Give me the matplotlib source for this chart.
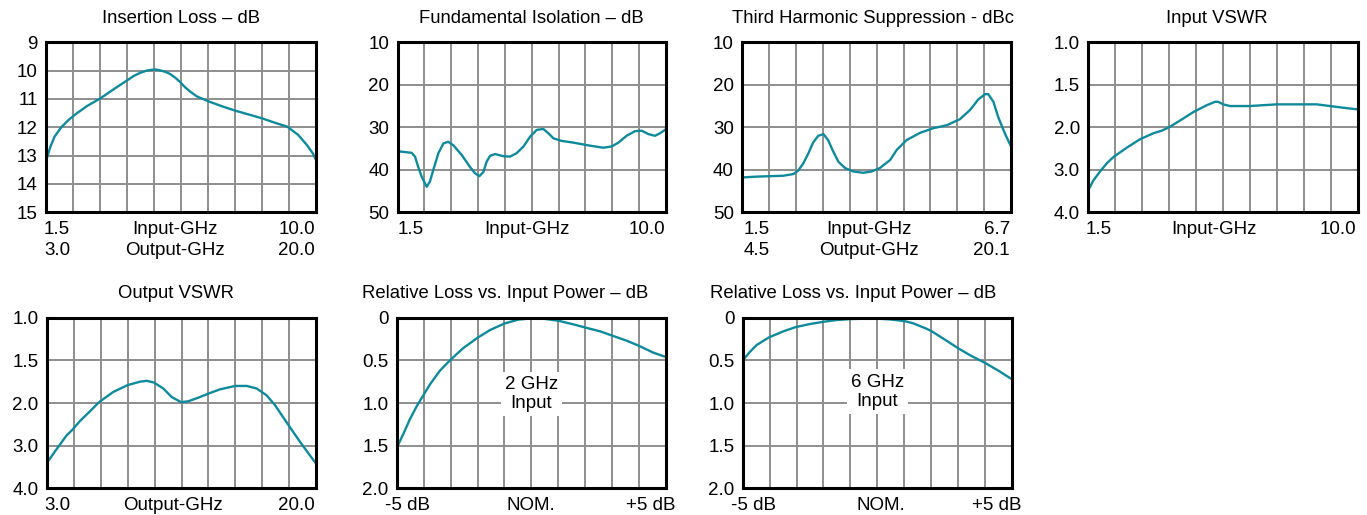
import numpy as np
import matplotlib
matplotlib.use("Agg")
import matplotlib.pyplot as plt

plt.rcParams['font.family'] = ['Liberation Sans', 'DejaVu Sans']

TEAL = '#0f8a9a'
GRID = '#8e8e8e'
FS = 13.5
FS_T = 13.3

# ---------------- data ----------------
# Insertion loss vs input frequency (GHz)
il_freq = [1.50, 1.55, 1.64, 1.77, 1.98, 2.21, 2.43, 2.79, 3.21, 3.68, 4.14, 4.26, 4.46, 4.67, 4.83,
           4.95, 5.09, 5.25, 5.41, 5.57, 5.72, 5.88, 6.04, 6.25, 6.46, 6.63, 7.07, 7.48, 7.92, 8.29,
           8.71, 9.10, 9.44, 9.71, 9.90, 10.0]
il_db = [13.2, 13.0, 12.68, 12.33, 12.0, 11.74, 11.54, 11.25, 10.98, 10.62, 10.28, 10.19, 10.08, 10.0, 9.97,
         9.96, 9.99, 10.04, 10.12, 10.25, 10.40, 10.59, 10.74, 10.91, 11.01, 11.09, 11.27, 11.42, 11.56, 11.68,
         11.84, 11.98, 12.27, 12.62, 12.92, 13.15]

# Fundamental isolation vs input frequency (GHz)
iso_freq = [1.50, 1.57, 1.94, 2.05, 2.15, 2.26, 2.42, 2.52, 2.63, 2.79, 2.95, 3.10, 3.26, 3.53, 3.79,
            3.95, 4.09, 4.22, 4.32, 4.43, 4.59, 4.85, 5.06, 5.27, 5.49, 5.70, 5.91, 6.12, 6.28, 6.44,
            6.70, 7.07, 7.58, 8.02, 8.29, 8.50, 8.76, 9.03, 9.24, 9.45, 9.66, 9.82, 10.0]
iso_db = [35.7, 35.7, 36.0, 36.9, 39.3, 41.6, 44.0, 42.8, 40.0, 36.1, 33.8, 33.4, 34.2, 36.5, 39.3,
          40.8, 41.5, 40.5, 38.1, 36.7, 36.3, 36.8, 36.9, 36.1, 34.5, 32.2, 30.6, 30.4, 31.4, 32.6,
          33.2, 33.6, 34.3, 34.8, 34.5, 33.6, 32.0, 30.9, 30.8, 31.6, 32.0, 31.4, 30.5]

# Third harmonic suppression vs input frequency (GHz)
h3_freq = [1.50, 1.78, 2.04, 2.29, 2.49, 2.58, 2.68, 2.78, 2.87, 2.97, 3.07, 3.16, 3.26, 3.36, 3.49,
           3.65, 3.84, 4.00, 4.16, 4.36, 4.49, 4.68, 4.94, 5.20, 5.46, 5.71, 5.91, 6.07, 6.20, 6.26,
           6.36, 6.45, 6.58, 6.70]
h3_dbc = [41.8, 41.6, 41.5, 41.4, 41.0, 40.2, 38.5, 36.1, 33.6, 32.0, 31.6, 33.0, 35.7, 38.1, 39.6,
          40.4, 40.7, 40.4, 39.6, 37.7, 35.3, 33.0, 31.3, 30.2, 29.5, 28.1, 25.9, 23.4, 22.2, 22.2,
          24.0, 27.5, 31.4, 34.5]

# Input VSWR vs input frequency (GHz)
vin_freq = [1.50, 1.66, 1.87, 2.08, 2.29, 2.71, 3.13, 3.55, 3.81, 4.04, 4.39, 4.81, 5.23, 5.49, 5.59,
            5.75, 5.96, 6.28, 6.57, 7.01, 7.43, 7.85, 8.27, 8.69, 9.11, 9.53, 10.0]
vin_vswr = [3.48, 3.25, 3.04, 2.85, 2.70, 2.48, 2.28, 2.14, 2.08, 2.0, 1.92, 1.82, 1.74, 1.70, 1.70,
            1.73, 1.75, 1.75, 1.75, 1.74, 1.73, 1.73, 1.73, 1.73, 1.75, 1.77, 1.79]

# Output VSWR vs output frequency (GHz)
vout_freq = [3.0, 3.61, 4.24, 4.60, 5.09, 5.70, 6.29, 7.19, 8.10, 8.88, 9.30, 9.76, 10.35, 10.88, 11.47,
             11.93, 12.67, 13.20, 13.93, 14.90, 15.62, 16.25, 16.88, 17.41, 18.19, 18.99, 19.52, 20.0]
vout_vswr = [3.40, 3.08, 2.76, 2.63, 2.42, 2.20, 1.99, 1.87, 1.79, 1.75, 1.74, 1.76, 1.83, 1.93, 1.99,
             1.98, 1.93, 1.89, 1.84, 1.80, 1.80, 1.83, 1.91, 2.05, 2.48, 2.91, 3.18, 3.42]

# Relative loss vs input power (dB re nominal), 2 GHz input
p2_pin = [-5.0, -4.76, -4.52, -4.27, -4.04, -3.77, -3.40, -3.03, -2.53, -2.0, -1.54, -1.0, -0.48,
          0.01, 0.45, 1.0, 1.56, 2.03, 2.56, 3.01, 3.55, 4.01, 4.54, 5.0]
p2_loss = [1.52, 1.36, 1.19, 1.04, 0.92, 0.78, 0.62, 0.50, 0.355, 0.235, 0.145, 0.068, 0.022,
           0.008, 0.012, 0.035, 0.078, 0.117, 0.16, 0.21, 0.27, 0.33, 0.41, 0.46]

# Relative loss vs input power (dB re nominal), 6 GHz input
p6_pin = [-5.0, -4.73, -4.48, -4.02, -3.49, -3.03, -2.50, -1.98, -1.51, -0.99, -0.51, 0.02, 0.48,
          1.02, 1.34, 1.59, 1.84, 2.03, 2.58, 3.02, 3.45, 4.01, 4.50, 5.0]
p6_loss = [0.50, 0.40, 0.32, 0.23, 0.16, 0.11, 0.074, 0.047, 0.027, 0.016, 0.012, 0.012, 0.02,
           0.04, 0.066, 0.098, 0.13, 0.16, 0.27, 0.36, 0.44, 0.53, 0.62, 0.72]

# tick values / labels
il_yticks = [9, 10, 11, 12, 13, 14, 15]
db_yticks = [10, 20, 30, 40, 50]
vswr_yticks = [1.0, 1.5, 2.0, 3.0, 4.0]
vswr_ylabels = ["1.0", "1.5", "2.0", "3.0", "4.0"]
pw_yticks = [0, 0.5, 1.0, 1.5, 2.0]
pw_ylabels = ["0", "0.5", "1.0", "1.5", "2.0"]

il_xlabels = [["1.5", "Input-GHz", "10.0"], ["3.0", "Output-GHz", "20.0"]]
iso_xlabels = [["1.5", "Input-GHz", "10.0"]]
h3_xlabels = [["1.5", "Input-GHz", "6.7"], ["4.5", "Output-GHz", "20.1"]]
vin_xlabels = [["1.5", "Input-GHz", "10.0"]]
vout_xlabels = [["3.0", "Output-GHz", "20.0"]]
pw_xlabels = [["-5 dB", "NOM.", "+5 dB"]]

titles = ["Insertion Loss \u2013 dB", "Fundamental Isolation \u2013 dB",
          "Third Harmonic Suppression - dBc", "Input VSWR", "Output VSWR",
          "Relative Loss vs. Input Power \u2013 dB", "Relative Loss vs. Input Power \u2013 dB"]
notes = ["2 GHz\nInput", "6 GHz\nInput"]

# ---------------- figure ----------------
W, H = 1367, 515
fig = plt.figure(figsize=(W / 100, H / 100), dpi=100)


def make_ax(x0, y0, x1, y1):
    return fig.add_axes([x0 / W, 1 - y1 / H, (x1 - x0) / W, (y1 - y0) / H])


def vswr_scale(ax):
    pos = np.arange(len(vswr_yticks), dtype=float)
    fwd = lambda v: np.interp(v, vswr_yticks, pos)
    inv = lambda p: np.interp(p, pos, vswr_yticks)
    ax.set_yscale('function', functions=(fwd, inv))


def style(ax, xlim, ylim, yticks, ylabels):
    ax.set_xlim(*xlim)
    ax.set_ylim(*ylim)
    ax.set_xticks(np.linspace(xlim[0], xlim[1], 11))
    ax.set_xticklabels([])
    ax.set_yticks(yticks)
    ax.set_yticklabels(ylabels, fontsize=FS)
    ax.yaxis.set_minor_locator(matplotlib.ticker.NullLocator())
    ax.tick_params(length=0, pad=6, which='both')
    ax.grid(True, color=GRID, lw=1.4)
    ax.set_axisbelow(True)
    for s in ax.spines.values():
        s.set_linewidth(2.2)
        s.set_color('black')


def xlabels(ax, rows, offs=(-2, -6, -1)):
    for r, row in enumerate(rows):
        dy = -17 - 21 * r
        for (fx, ha, dx), txt in zip([(0, 'left', offs[0]), (0.5, 'center', offs[1]),
                                      (1, 'right', offs[2])], row):
            ax.annotate(txt, xy=(fx, 0), xycoords='axes fraction', xytext=(dx, dy),
                        textcoords='offset pixels', ha=ha, va='center', fontsize=FS)


def title(ax, txt, dx=0, left=False):
    if left:
        ax.annotate(txt, xy=(0, 1), xycoords='axes fraction', xytext=(dx, 24),
                    textcoords='offset pixels', ha='left', va='center', fontsize=FS_T)
    else:
        ax.annotate(txt, xy=(0.5, 1), xycoords='axes fraction', xytext=(dx, 24),
                    textcoords='offset pixels', ha='center', va='center', fontsize=FS_T)


LW = 1.7

# Panel 1
ax = make_ax(46, 42.3, 316, 212.3)
ax.plot(il_freq, il_db, color=TEAL, lw=LW)
style(ax, (1.5, 10.0), (15, 9), il_yticks, [str(v) for v in il_yticks])
xlabels(ax, il_xlabels)
title(ax, titles[0])

# Panel 2
ax = make_ax(397.7, 42.3, 665.7, 212.3)
ax.plot(iso_freq, iso_db, color=TEAL, lw=LW)
style(ax, (1.5, 10.0), (50, 10), db_yticks, [str(v) for v in db_yticks])
xlabels(ax, iso_xlabels, offs=(0, -5, 0))
title(ax, titles[1])

# Panel 3
ax = make_ax(742.3, 42.3, 1011, 212.3)
ax.plot(h3_freq, h3_dbc, color=TEAL, lw=LW)
style(ax, (1.5, 6.7), (50, 10), db_yticks, [str(v) for v in db_yticks])
xlabels(ax, h3_xlabels, offs=(1, -8, -1))
title(ax, titles[2], dx=-4)

# Panel 4
ax = make_ax(1088.3, 42.3, 1358.3, 212.3)
vswr_scale(ax)
ax.plot(vin_freq, vin_vswr, color=TEAL, lw=LW)
style(ax, (1.5, 10.0), (4.0, 1.0), vswr_yticks, vswr_ylabels)
xlabels(ax, vin_xlabels, offs=(-3, -9, -2))
title(ax, titles[3], dx=-6)

# Panel 5
ax = make_ax(47, 317.7, 316, 488.3)
vswr_scale(ax)
ax.plot(vout_freq, vout_vswr, color=TEAL, lw=LW)
style(ax, (3.0, 20.0), (4.0, 1.0), vswr_yticks, vswr_ylabels)
xlabels(ax, vout_xlabels, offs=(-3, -9, -1))
title(ax, titles[4], dx=-6)

# Panel 6
ax = make_ax(397, 317.7, 665.7, 488.3)
ax.plot(p2_pin, p2_loss, color=TEAL, lw=LW)
style(ax, (-5, 5), (2.0, 0.0), pw_yticks, pw_ylabels)
xlabels(ax, pw_xlabels, offs=(-12, 0, 10))
title(ax, titles[5], dx=-35, left=True)
ax.text(0, 0.895, notes[0], ha='center', va='center', fontsize=FS, linespacing=1.2,
        bbox=dict(facecolor='white', edgecolor='none', pad=3))

# Panel 7
ax = make_ax(742.7, 317.7, 1011.7, 488.3)
ax.plot(p6_pin, p6_loss, color=TEAL, lw=LW)
style(ax, (-5, 5), (2.0, 0.0), pw_yticks, pw_ylabels)
xlabels(ax, pw_xlabels, offs=(-12, 4, 10))
title(ax, titles[6], dx=-33, left=True)
ax.text(0, 0.87, notes[1], ha='center', va='center', fontsize=FS, linespacing=1.2,
        bbox=dict(facecolor='white', edgecolor='none', pad=3))

fig.savefig("out.png", dpi=100)
